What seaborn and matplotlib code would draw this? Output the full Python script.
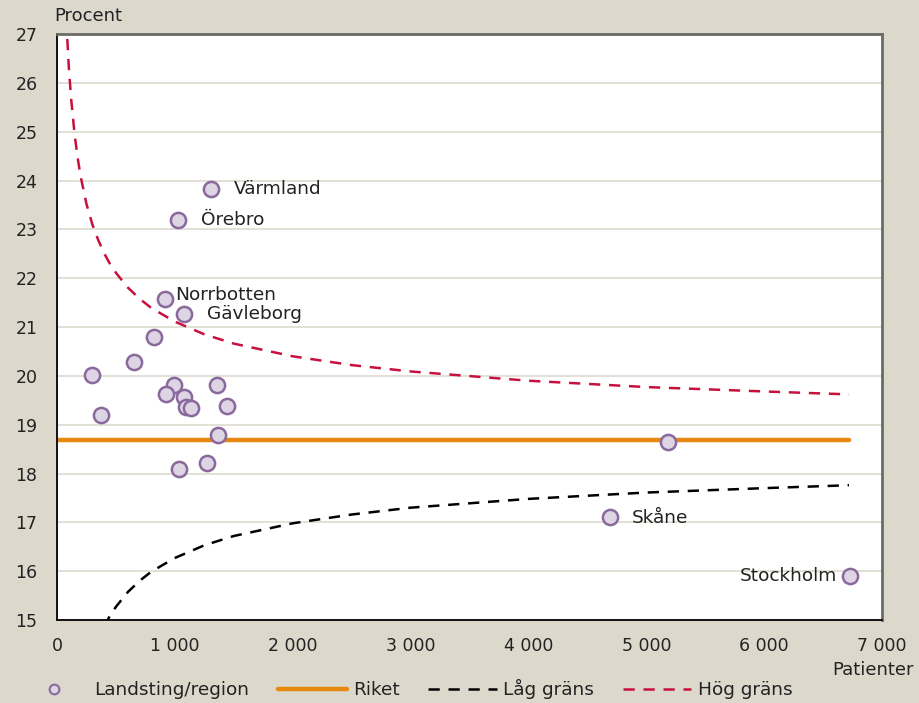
import matplotlib
matplotlib.use("Agg")
import matplotlib.pyplot as plt
import seaborn as sns
import pandas as pd
from matplotlib.lines import Line2D

# ---- data ----
patients = [1310, 1030, 920, 1080, 820, 655, 298, 374, 995, 927, 1080, 1097, 1139,
            1361, 1446, 1369, 1037, 1276, 5180, 4690, 6725]
percent = [23.83, 23.19, 21.57, 21.27, 20.80, 20.28, 20.02, 19.20, 19.81, 19.63, 19.57,
           19.36, 19.34, 19.81, 19.38, 18.79, 18.09, 18.21, 18.64, 17.11, 15.90]
names = ["Värmland", "Örebro", "Norrbotten", "Gävleborg"] + [""] * 15 + ["Skåne", "Stockholm"]

riket_x = [0, 6720]
riket_y = [18.69, 18.69]

high_x = [70, 80, 100, 120, 150, 175, 200, 250, 300, 350, 400, 450, 500, 600, 700, 800,
          1000, 1250, 1500, 2000, 2500, 3000, 4000, 5000, 6000, 6720]
high_y = [27.82, 27.23, 26.33, 25.67, 24.93, 24.47, 24.09, 23.52, 23.10, 22.78, 22.51,
          22.29, 22.11, 21.81, 21.58, 21.39, 21.11, 20.85, 20.66, 20.40, 20.22, 20.09,
          19.90, 19.77, 19.68, 19.62]

low_x = [400, 450, 500, 600, 700, 800, 1000, 1250, 1500, 2000, 2500, 3000, 4000, 5000,
         6000, 6720]
low_y = [14.87, 15.09, 15.27, 15.57, 15.80, 15.99, 16.27, 16.53, 16.72, 16.98, 17.16,
         17.30, 17.48, 17.61, 17.70, 17.76]

x_ticks = [0, 1000, 2000, 3000, 4000, 5000, 6000, 7000]
x_ticklabels = ["0", "1 000", "2 000", "3 000", "4 000", "5 000", "6 000", "7 000"]
y_ticks = list(range(15, 28))

# ---- style ----
BG = "#DCD9CC"
ORANGE = "#E8870E"
RED = "#C8103E"
PT_FILL = "#DDD4E4"
PT_EDGE = "#8A6A9C"
GRID = "#DEDBD0"
TXT = "#222222"

sns.set_theme(style="white")
plt.rcParams["font.family"] = ["DejaVu Sans"]

fig = plt.figure(figsize=(9.19, 7.03), dpi=100, facecolor=BG)
ax = fig.add_axes([57 / 919, 83 / 703, 825 / 919, 586 / 703])
ax.set_facecolor("white")

df_pts = pd.DataFrame({"Patienter": patients, "Procent": percent, "name": names})
df_high = pd.DataFrame({"x": high_x, "y": high_y})
df_low = pd.DataFrame({"x": low_x, "y": low_y})
df_riket = pd.DataFrame({"x": riket_x, "y": riket_y})

for yv in y_ticks[1:-1]:
    ax.axhline(yv, color=GRID, lw=1.2, zorder=0)

sns.lineplot(data=df_riket, x="x", y="y", ax=ax, color=ORANGE, lw=3.2, zorder=2)
sns.lineplot(data=df_high, x="x", y="y", ax=ax, color=RED, lw=1.8, zorder=2,
             linestyle=(0, (4.5, 3.5)), sort=False)
sns.lineplot(data=df_low, x="x", y="y", ax=ax, color="black", lw=1.8, zorder=2,
             linestyle=(0, (4.5, 3.5)), sort=False)
sns.scatterplot(data=df_pts, x="Patienter", y="Procent", ax=ax, s=120,
                color=PT_FILL, edgecolor=PT_EDGE, linewidth=1.8, zorder=3)

offsets = {"Värmland": (16, 0, "left"), "Örebro": (16, 0, "left"),
           "Norrbotten": (7, 3, "left"), "Gävleborg": (16, 0, "left"),
           "Skåne": (16, -1, "left"), "Stockholm": (-9, 0, "right")}
for xv, yv, nm in zip(patients, percent, names):
    if nm:
        dx, dy, ha = offsets[nm]
        ax.annotate(nm, (xv, yv), xytext=(dx, dy), textcoords="offset points",
                    ha=ha, va="center", fontsize=13.3, color=TXT)

ax.set_xlim(0, 7000)
ax.set_ylim(15, 27)
ax.set_xticks(x_ticks)
ax.set_xticklabels(x_ticklabels)
ax.set_yticks(y_ticks)
ax.tick_params(axis="x", direction="in", length=6, width=1, color="#333333",
               labelsize=12.5, pad=12, labelcolor=TXT)
ax.tick_params(axis="y", length=0, labelsize=12.5, pad=14, labelcolor=TXT)
ax.set_xlabel("")
ax.set_ylabel("")
for side in ["left", "bottom"]:
    ax.spines[side].set_color("#111111")
    ax.spines[side].set_linewidth(1.4)
for side in ["top", "right"]:
    ax.spines[side].set_visible(True)
    ax.spines[side].set_color("#6B6B66")
    ax.spines[side].set_linewidth(2)

fig.text(88 / 919, 1 - 16 / 703, "Procent", ha="center", va="center", fontsize=13,
         color=TXT)
fig.text(873 / 919, 1 - 670 / 703, "Patienter", ha="center", va="center", fontsize=13,
         color=TXT)

handles = [
    Line2D([], [], marker="o", linestyle="none", markersize=7, markerfacecolor=PT_FILL,
           markeredgecolor=PT_EDGE, markeredgewidth=1.5),
    Line2D([], [], color=ORANGE, lw=3.2),
    Line2D([], [], color="black", lw=1.8, linestyle=(0, (4.5, 3.5))),
    Line2D([], [], color=RED, lw=1.8, linestyle=(0, (4.5, 3.5))),
]
labels = ["Landsting/region", "Riket", "Låg gräns", "Hög gräns"]
fig.legend(handles, labels, loc="center", bbox_to_anchor=(406 / 919, 1 - 689 / 703),
           ncol=4, frameon=False, handlelength=3.7, columnspacing=1.55,
           handletextpad=0.35, prop={"size": 13.3}, labelcolor=TXT)

fig.savefig("out.png", dpi=100, facecolor=BG)
